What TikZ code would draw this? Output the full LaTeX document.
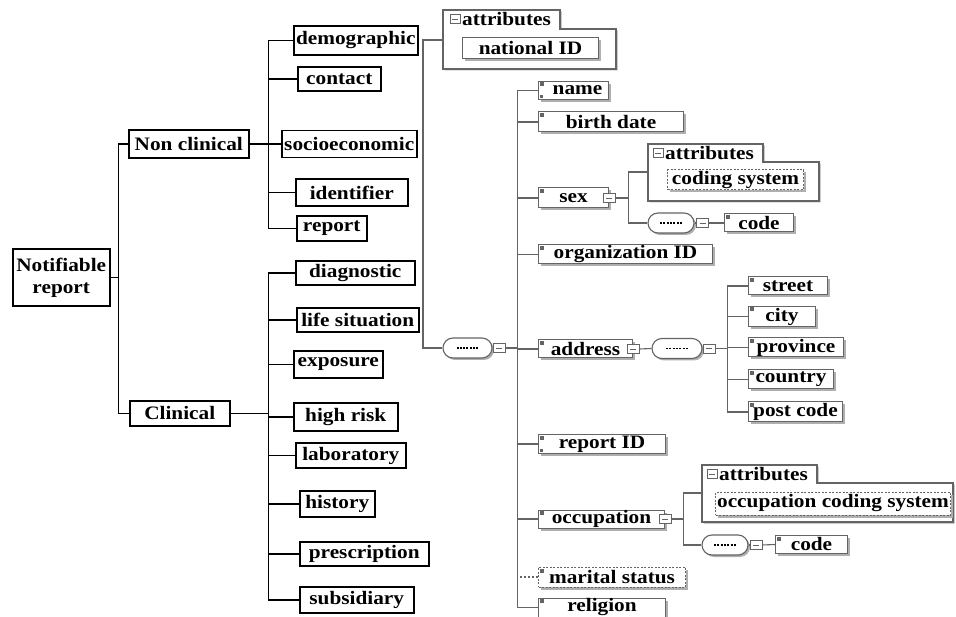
\documentclass[tikz,border=0pt]{standalone}
\usepackage{fontspec}
\setmainfont{Liberation Serif}[FakeStretch=1.12]
\usetikzlibrary{shapes.misc,shadows}
\definecolor{gline}{RGB}{100,100,100}
\definecolor{gshadow}{RGB}{175,175,175}
\newcommand\minusicon[2]{%
  \node[draw=gline, line width=0.8pt, minimum width=10, minimum height=9, inner sep=0pt, fill=white] (#1) at (#2) {};
  \draw[gline, line width=0.8pt] ([xshift=-3pt]#1.center) -- ([xshift=3pt]#1.center);}
\newcommand\seqnode[3]{%
  \node[seqs, minimum width=#3] (#1) at (#2) {};
  \draw[black, line width=1.6pt, dash pattern=on 2pt off 1.3pt] ([xshift=-11pt]#1.center) -- ([xshift=11pt]#1.center);}
\newcommand\csq[2]{%
  \node[csqs] (#1) at (#2) {};
  \draw[gline, line width=0.8pt] ([xshift=-3pt]#1.center) -- ([xshift=3pt]#1.center);}
\newcommand\elicon[1]{%
  \fill[gline] ([shift={(1.5pt,-1.5pt)}]#1.north west) rectangle ++(4,4);}
\begin{document}
\begin{tikzpicture}[x=1pt,y=-1pt,
  lbox/.style={draw=black, line width=1.5pt, fill=white, inner sep=0pt, anchor=west,
    font=\fontsize{19}{22}\selectfont\bfseries},
  lline/.style={black, line width=1.5pt},
  gl/.style={gline, line width=1.1pt},
  el/.style={draw=gline, line width=1pt, fill=white, inner sep=0pt, anchor=west,
    font=\fontsize{19}{20}\selectfont\bfseries,
    drop shadow={shadow xshift=2.5pt, shadow yshift=-2.5pt, fill=gshadow, opacity=1}},
  eld/.style={el, dash pattern=on 2pt off 1.5pt},
  seqs/.style={rounded rectangle, draw=gline, line width=1.1pt, fill=white, minimum height=20, inner sep=0pt,
    drop shadow={shadow xshift=2pt, shadow yshift=-2pt, fill=gshadow, opacity=1}},
  csqs/.style={draw=gline, line width=0.8pt, fill=white, minimum width=12, minimum height=9, inner sep=0pt},
  abox/.style={draw=gline, line width=1.2pt, fill=white,
    drop shadow={shadow xshift=1.5pt, shadow yshift=-1.5pt, fill=gshadow, opacity=1}},
  atxt/.style={anchor=west, inner sep=0pt, font=\fontsize{19}{20}\selectfont\bfseries}
]
\fill[white] (0,0) rectangle (956,617);
\useasboundingbox (0,0) rectangle (956,617);

% ---------------- left tree ----------------
\node[lbox, minimum width=97, minimum height=57, align=center] (nr) at (12,277.5) {Notifiable\\report};
\node[lbox, minimum width=120, minimum height=28] (nc) at (128,144) {Non clinical};
\node[lbox, minimum width=100, minimum height=25] (cl) at (129,413.5) {Clinical};

\node[lbox, minimum width=124, minimum height=29] (demo) at (293,40.5) {demographic};
\node[lbox, minimum width=83, minimum height=24] (contact) at (297,79) {contact};
\node[lbox, minimum width=135, minimum height=27] (socio) at (281,144) {socioeconomic};
\node[lbox, minimum width=112, minimum height=27] (ident) at (295,192.5) {identifier};
\node[lbox, minimum width=70, minimum height=25] (report) at (296,228.5) {report};

\node[lbox, minimum width=119, minimum height=24] (diag) at (295,273) {diagnostic};
\node[lbox, minimum width=122, minimum height=24] (life) at (296,320) {life situation};
\node[lbox, minimum width=89, minimum height=27] (expo) at (293,364.5) {exposure};
\node[lbox, minimum width=104, minimum height=28] (high) at (293,417) {high risk};
\node[lbox, minimum width=110, minimum height=25] (lab) at (295,455.5) {laboratory};
\node[lbox, minimum width=75, minimum height=26] (hist) at (299,504) {history};
\node[lbox, minimum width=129, minimum height=24] (pres) at (299,554) {prescription};
\node[lbox, minimum width=114, minimum height=26] (subs) at (299,600) {subsidiary};

\draw[lline] (nr.east) -- ++(8,0) coordinate (t1);
\draw[lline] (t1) |- (nc.west);
\draw[lline] (t1) |- (cl.west);
\draw[lline] (nc.east) -- ++(19,0) coordinate (b1);
\foreach \n in {demo,contact,socio,ident,report} \draw[lline] (b1) |- (\n.west);
\draw[lline] (cl.east) -- ++(38,0) coordinate (b2);
\foreach \n in {diag,life,expo,high,lab,hist,pres,subs} \draw[lline] (b2) |- (\n.west);

% ---------------- schema part ----------------
\coordinate (g0) at (423,192.5);
% attributes 1
\draw[abox] (443,10) -- (560,10) -- (560,29) -- (616,29) -- (616,69) -- (443,69) -- cycle;
\coordinate (a1) at (443,40);
\minusicon{m1}{455,19}
\node[atxt] (a1t) at (462,19) {attributes};
\node[el, minimum width=136, minimum height=21] (natid) at (462,48.5) {national ID};

\seqnode{s1}{467.5,348}{49}
\csq{s1c}{499,348}
\draw[gl] (g0) |- (a1);
\draw[gl] (g0) |- (s1.west);
\draw[gl] (s1.east) -- (s1c.west);
\draw[gl] (s1c.east) -- ++(12,0) coordinate (b3);

\node[el, minimum width=70, minimum height=18] (name) at (538,90.5) {\hspace{8pt}name};
\node[el, minimum width=145, minimum height=20] (birth) at (538,122) {birth date};
\node[el, minimum width=70, minimum height=20] (sex) at (538,198) {sex\hspace{6pt}};
\node[el, minimum width=174, minimum height=19] (org) at (538,254.5) {organization ID};
\node[el, minimum width=94, minimum height=18] (addr) at (538,349) {address\hspace{4pt}};
\node[el, minimum width=127, minimum height=18] (repid) at (538,444) {report ID};
\node[el, minimum width=126, minimum height=18] (occ) at (538,519) {occupation\hspace{2pt}};
\node[eld, minimum width=147, minimum height=20] (mar) at (538,577) {marital status};
\node[el, minimum width=127, minimum height=19] (rel) at (538,607.5) {religion};
\foreach \n in {name,birth,sex,org,addr,repid,occ,rel} {\elicon{\n}}
\fill[gline] ([shift={(1.5pt,-2pt)}]mar.north west) rectangle ++(4,4);
\fill[gline] ([shift={(2pt,2pt)}]name.south west) rectangle ++(3,-3);
\fill[gline] ([shift={(2pt,2pt)}]repid.south west) rectangle ++(3,-3);

\foreach \n in {name,birth,sex,org,addr,repid,occ,rel} \draw[gl] (b3) |- (\n.west);
\draw[gl, dash pattern=on 2pt off 2pt] (b3) |- (mar.west);

% sex subtree
\csq{sexc}{sex.east}
\draw[gl] (sexc.east) -- ++(13,0) coordinate (b4);
\draw[abox] (648,144) -- (763,144) -- (763,162) -- (819,162) -- (819,201) -- (648,201) -- cycle;
\coordinate (a2) at (648,172);
\minusicon{m2}{658,153}
\node[atxt] (a2t) at (665,153) {attributes};
\node[eld, minimum width=136, minimum height=20] (codsys) at (667,180) {coding system};
\seqnode{s2}{671,223}{46}
\csq{s2c}{702.5,223}
\node[el, minimum width=69, minimum height=18] (code1) at (724,223) {code};
\elicon{code1}
\draw[gl] (b4) |- (a2);
\draw[gl] (b4) |- (s2.west);
\draw[gl] (s2.east) -- (s2c.west);
\draw[gl] (s2c.east) -- (code1.west);

% address subtree
\csq{addrc}{addr.east}
\seqnode{s3}{677,348.5}{50}
\csq{s3c}{709,348.5}
\draw[gl] (addrc.east) -- (s3.west);
\draw[gl] (s3.east) -- (s3c.west);
\draw[gl] (s3c.east) -- ++(12,0) coordinate (b5);
\node[el, minimum width=79, minimum height=18] (street) at (748,286) {street};
\node[el, minimum width=67, minimum height=20] (city) at (748,316.5) {city};
\node[el, minimum width=95, minimum height=19] (prov) at (748,347.5) {province};
\node[el, minimum width=85, minimum height=19] (country) at (748,379.5) {country};
\node[el, minimum width=94, minimum height=20] (post) at (748,412) {post code};
\foreach \n in {street,city,prov,country,post} {\elicon{\n} \draw[gl] (b5) |- (\n.west);}

% occupation subtree
\csq{occc}{occ.east}
\draw[gl] (occc.east) -- ++(12,0) coordinate (b6);
\draw[abox] (702,465) -- (817,465) -- (817,483) -- (953,483) -- (953,522) -- (702,522) -- cycle;
\coordinate (a3) at (702,493);
\minusicon{m3}{712,474}
\node[atxt] (a3t) at (719,474) {attributes};
\node[eld, minimum width=235, minimum height=23] (occsys) at (715,503.5) {occupation coding system};
\seqnode{s4}{725,545}{46}
\csq{s4c}{756,545}
\node[el, minimum width=72, minimum height=18] (code2) at (775,544.5) {code};
\elicon{code2}
\draw[gl] (b6) |- (a3);
\draw[gl] (b6) |- (s4.west);
\draw[gl] (s4.east) -- (s4c.west);
\draw[gl] (s4c.east) -- (code2.west);
\end{tikzpicture}
\end{document}
